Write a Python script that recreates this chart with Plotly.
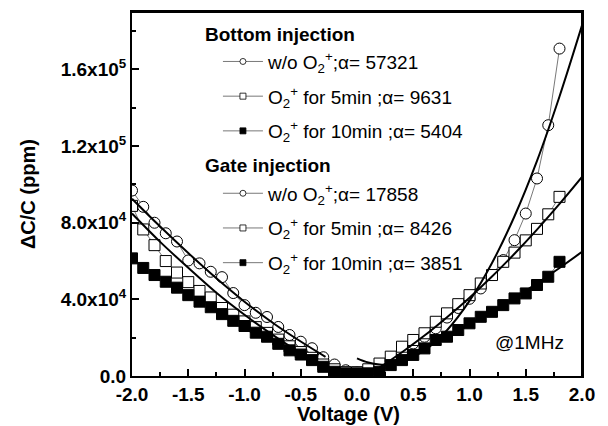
import plotly.graph_objects as go

# ---------------- data ----------------
# Gate injection (negative voltages)
V_gate = [-2.0, -1.9, -1.8, -1.7, -1.6, -1.5, -1.4, -1.3, -1.2, -1.1, -1.0,
          -0.9, -0.8, -0.7, -0.6, -0.5, -0.4, -0.3, -0.2, -0.1, 0.0]
gate_wo = [96800, 88300, 80000, 74500, 70200, 60300, 58800, 54400, 51600, 43300, 37000,
           33000, 30800, 25600, 21400, 17900, 14500, 9800, 6000, 3000, 1800]
gate_5min = [88800, 76500, 68300, 60000, 54000, 49000, 44400, 41000, 35500, 32000, 28500,
             25500, 22500, 19000, 15500, 12500, 9500, 6000, 3500, 2000, 1500]
gate_10min = [61400, 56400, 52700, 49200, 46100, 42200, 38800, 35900, 32300, 28800, 26100,
              22600, 20500, 16800, 13400, 11200, 8300, 4800, 2200, 1400, 1400]

# Bottom injection (positive voltages)
V_bottom = [0.0, 0.1, 0.2, 0.3, 0.4, 0.5, 0.6, 0.7, 0.8, 0.9,
            1.0, 1.1, 1.2, 1.3, 1.4, 1.5, 1.6, 1.7, 1.8]
bottom_wo = [1500, 2500, 4500, 8000, 12000, 17000, 20500, 24900, 30500, 35500,
             40300, 45700, 52700, 60500, 70900, 84800, 103100, 130900, 170900]
bottom_5min = [2000, 3500, 6500, 10100, 15300, 18800, 22300, 28300, 32700, 37500,
               42200, 48300, 52700, 59600, 64400, 70800, 76800, 84400, 93500]
bottom_10min = [1400, 1400, 2200, 5700, 8300, 11000, 14400, 18800, 20500, 24000,
                27500, 30900, 33500, 37000, 40500, 43100, 47500, 51800, 59600]

# Fitted curves
fit_gate_wo_V = [-2.0, -1.75, -1.5, -1.25, -1.0, -0.75, -0.5, -0.28]
fit_gate_wo = [92500, 78000, 64200, 51000, 38800, 27800, 18000, 10000]
fit_gate_5min_V = [-2.0, -1.75, -1.5, -1.25, -1.0, -0.75, -0.5, -0.3]
fit_gate_5min = [84800, 70000, 56500, 43500, 32000, 21500, 12000, 5500]
fit_bottom_wo_V = [0.0, 0.1, 0.2, 0.3, 0.4, 0.6, 0.8, 1.0, 1.2, 1.4, 1.6, 1.8, 2.0]
fit_bottom_wo = [9200, 7000, 6000, 6100, 7400, 13400, 23900, 39200, 59000, 83400,
                 112300, 145900, 183000]
fit_bottom_5min_V = [0.2, 0.4, 0.6, 0.8, 1.0, 1.2, 1.4, 1.6, 1.8, 2.0]
fit_bottom_5min = [4400, 12400, 21100, 30700, 40900, 51900, 63800, 76400, 89800, 103900]
fit_bottom_10min_V = [0.2, 0.4, 0.6, 0.8, 1.0, 1.2, 1.4, 1.6, 1.8, 2.0]
fit_bottom_10min = [4500, 9500, 14900, 20700, 27000, 33700, 40800, 48400, 56400, 64800]

# Labels
legend_labels = [
    "w/o O<sub>2</sub><sup>+</sup>;α= 57321",
    "O<sub>2</sub><sup>+</sup> for 5min ;α= 9631",
    "O<sub>2</sub><sup>+</sup> for 10min ;α= 5404",
    "w/o O<sub>2</sub><sup>+</sup>;α= 17858",
    "O<sub>2</sub><sup>+</sup> for 5min ;α= 8426",
    "O<sub>2</sub><sup>+</sup> for 10min ;α= 3851",
]
group_titles = ["Bottom injection", "Gate injection"]
x_title = "Voltage (V)"
y_title = "ΔC/C (ppm)"
x_tickvals = [-2.0, -1.5, -1.0, -0.5, 0.0, 0.5, 1.0, 1.5, 2.0]
x_ticktext = ["-2.0", "-1.5", "-1.0", "-0.5", "0.0", "0.5", "1.0", "1.5", "2.0"]
y_tickvals = [0, 40000, 80000, 120000, 160000]
y_ticktext = ["0.0", "4.0x10<sup>4</sup>", "8.0x10<sup>4</sup>",
              "1.2x10<sup>5</sup>", "1.6x10<sup>5</sup>"]

# ---------------- styling ----------------
FONT = "Liberation Sans, Arial, Helvetica, sans-serif"
LINE_C = "#555555"
MS = 11

fig = go.Figure()

def data_trace(x, y, symbol, fill):
    return go.Scatter(
        x=x, y=y, mode="lines+markers", showlegend=False, hoverinfo="skip",
        line=dict(color=LINE_C, width=0.8),
        marker=dict(symbol=symbol, size=MS, color=fill,
                    line=dict(color="black", width=1)),
    )

# gate data
fig.add_trace(data_trace(V_gate, gate_wo, "circle", "white"))
fig.add_trace(data_trace(V_gate, gate_5min, "square", "white"))
fig.add_trace(data_trace(V_gate, gate_10min, "square", "black"))
# bottom data
fig.add_trace(data_trace(V_bottom, bottom_wo, "circle", "white"))
fig.add_trace(data_trace(V_bottom, bottom_5min, "square", "white"))
fig.add_trace(data_trace(V_bottom, bottom_10min, "square", "black"))

# fitted lines
for fx, fy in [(fit_gate_wo_V, fit_gate_wo), (fit_gate_5min_V, fit_gate_5min),
               (fit_bottom_wo_V, fit_bottom_wo), (fit_bottom_5min_V, fit_bottom_5min),
               (fit_bottom_10min_V, fit_bottom_10min)]:
    fig.add_trace(go.Scatter(x=fx, y=fy, mode="lines", showlegend=False,
                             hoverinfo="skip",
                             line=dict(color="black", width=2, shape="spline",
                                       smoothing=1)))

# legend entries (group headers are reserved with blank titles, drawn as annotations)
symbols = [("circle", "white"), ("square", "white"), ("square", "black")] * 2
for i, (lab, (sym, fill)) in enumerate(zip(legend_labels, symbols)):
    grp = "g%d" % i
    title = None
    if i in (0, 3):
        title = dict(text="&nbsp;", font=dict(family=FONT, size=19, color="black"))
    fig.add_trace(go.Scatter(
        x=[None], y=[None], mode="lines+markers", name=lab, legendgroup=grp,
        legendgrouptitle=title,
        line=dict(color=LINE_C, width=0.8),
        marker=dict(symbol=sym, size=6, color=fill, line=dict(color="black", width=0.8)),
    ))

for txt, ypos in zip(group_titles, [0.937, 0.577]):
    fig.add_annotation(text=txt, xref="paper", yref="paper", x=0.158, y=ypos,
                       showarrow=False, xanchor="left", yanchor="middle",
                       font=dict(family=FONT, size=19, color="black", weight="bold"))

fig.add_annotation(text="@1MHz", xref="paper", yref="paper", x=0.884, y=0.091,
                   showarrow=False, font=dict(family=FONT, size=19, color="black"),
                   xanchor="center", yanchor="middle")

# axis titles
fig.add_annotation(text=x_title, xref="paper", yref="paper", x=0.48, y=-0.104,
                   showarrow=False, xanchor="center", yanchor="middle",
                   font=dict(family=FONT, size=20, color="black", weight="bold"))
fig.add_annotation(text=y_title, xref="paper", yref="paper", x=-0.231, y=0.5,
                   showarrow=False, xanchor="center", yanchor="middle", textangle=-90,
                   font=dict(family=FONT, size=20, color="black", weight="bold"))

# plot frame (top and right sides)
fig.add_shape(type="line", xref="paper", yref="paper", x0=0, y0=1, x1=1, y1=1,
              line=dict(color="black", width=2), layer="above")
fig.add_shape(type="line", xref="paper", yref="paper", x0=1, y0=0, x1=1, y1=1,
              line=dict(color="black", width=2), layer="above")

axis_common = dict(
    showline=True, linecolor="black", linewidth=2, mirror=True,
    ticks="inside", ticklen=7, tickwidth=1.5, tickcolor="black",
    showgrid=False, zeroline=False, automargin=False,
    tickfont=dict(family=FONT, size=19, color="black", weight="bold"),
)

fig.update_xaxes(
    range=[-2.0, 2.0], tickmode="array", tickvals=x_tickvals, ticktext=x_ticktext,
    minor=dict(tickvals=[-1.75, -1.25, -0.75, -0.25, 0.25, 0.75, 1.25, 1.75],
               ticks="inside", ticklen=4, tickwidth=1.5, tickcolor="black"),
    **axis_common,
)
fig.update_yaxes(
    range=[0, 190000], tickmode="array", tickvals=y_tickvals, ticktext=y_ticktext,
    minor=dict(tickvals=[20000, 60000, 100000, 140000, 180000],
               ticks="inside", ticklen=4, tickwidth=1.5, tickcolor="black"),
    **axis_common,
)

fig.update_layout(
    width=608, height=426,
    margin=dict(l=132, r=26, t=12, b=50),
    paper_bgcolor="white", plot_bgcolor="white",
    font=dict(family=FONT, color="black"),
    legend=dict(x=0.191, y=0.992, xanchor="left", yanchor="top",
                bgcolor="rgba(0,0,0,0)", borderwidth=0,
                font=dict(family=FONT, size=19, color="black"),
                tracegroupgap=7, itemwidth=40, itemclick=False, itemdoubleclick=False),
)

fig.write_html("out.html", config={"displayModeBar": False},
               post_script="document.body.style.margin='0';document.body.style.overflow='hidden';")
